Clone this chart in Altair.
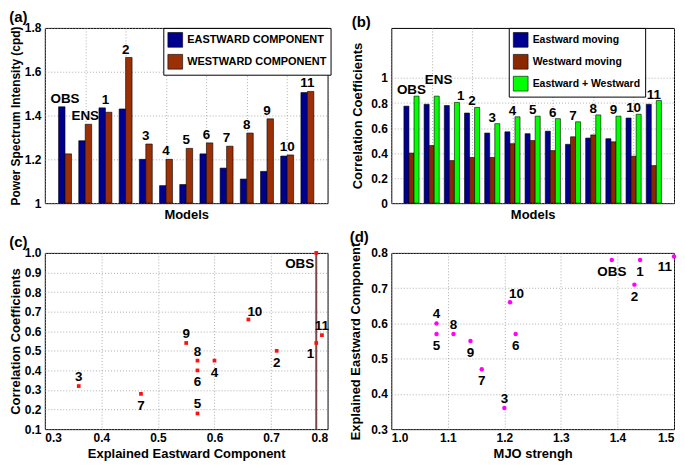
import altair as alt
import pandas as pd

FONT = "Liberation Sans"

# ---------------- data ----------------
models = ["OBS", "ENS", "1", "2", "3", "4", "5", "6", "7", "8", "9", "10", "11"]

# (a) power spectrum intensity (cpd)
psi_east = [1.44, 1.285, 1.435, 1.43, 1.20, 1.08, 1.085, 1.225, 1.16, 1.11, 1.145, 1.215, 1.505]
psi_west = [1.225, 1.36, 1.415, 1.665, 1.27, 1.20, 1.25, 1.275, 1.26, 1.32, 1.385, 1.22, 1.51]

# (b) correlation coefficients
cc_east = [0.775, 0.79, 0.78, 0.72, 0.56, 0.57, 0.555, 0.575, 0.47, 0.52, 0.515, 0.68, 0.79]
cc_west = [0.40, 0.46, 0.34, 0.365, 0.365, 0.475, 0.50, 0.42, 0.53, 0.545, 0.49, 0.375, 0.30]
cc_both = [0.855, 0.855, 0.805, 0.765, 0.635, 0.69, 0.695, 0.675, 0.65, 0.705, 0.695, 0.71, 0.82]

# (c), (d) scatter
pt_labels = ["OBS", "1", "2", "3", "4", "5", "6", "7", "8", "9", "10", "11"]
expl_east = [0.78, 0.78, 0.71, 0.36, 0.60, 0.57, 0.57, 0.47, 0.57, 0.55, 0.66, 0.79]
corr_coef = [1.00, 0.54, 0.50, 0.32, 0.45, 0.18, 0.40, 0.28, 0.45, 0.54, 0.66, 0.58]
mjo_strength = [1.39, 1.44, 1.43, 1.20, 1.08, 1.08, 1.22, 1.16, 1.11, 1.14, 1.21, 1.50]
obs_line = [0.78]

# ---------------- annotation styling ----------------
place_c = ["belowleft", "belowleft", "below", "above", "below", "above", "below", "below",
           "above", "above", "aboveright", "above"]
place_d = ["below", "below", "below", "above", "above", "below", "below", "below",
           "above", "below", "aboveright", "belowleft"]

PLACE = {
    "above": dict(align="center", baseline="alphabetic", dx=0, dy=-5),
    "below": dict(align="center", baseline="top", dx=0, dy=5),
    "aboveright": dict(align="left", baseline="alphabetic", dx=-1, dy=-4),
    "belowleft": dict(align="right", baseline="top", dx=-2, dy=4),
}

# per-label nudges (pixels) for the bar-group labels
nudge_a = {}
nudge_b = {"ENS": (7, -10), "1": (9, 0)}

GRID = dict(grid=True, gridColor="#9a9a9a", gridDash=[1, 2], gridWidth=0.8)


def bar_panel(names, series, colors, bw, ytitle, ytitle_size, ydom, yticks, legx, leg_fs,
              tag, lab_dy, nudge, lab_pad, title_pad):
    rows = []
    n = len(names)
    for si, (nm, vals) in enumerate(zip(names, series)):
        for mi, v in enumerate(vals):
            pos = mi + 1
            start = pos - n * bw / 2 + si * bw
            rows.append(dict(series=nm, value=v, x0=start, x1=start + bw, base=ydom[0]))
    df = pd.DataFrame(rows)
    lab = pd.DataFrame({
        "model": models,
        "pos": list(range(1, len(models) + 1)),
        "top": [max(t) for t in zip(*series)],
    })
    xscale = alt.Scale(domain=[0, 14], nice=False, zero=False)
    xaxis = alt.Axis(values=list(range(0, 15, 2)), labels=False, ticks=False,
                     title="Models", titlePadding=5, **GRID)
    yscale = alt.Scale(domain=ydom, nice=False, zero=False)
    yaxis = alt.Axis(values=yticks, format="~g", title=ytitle, ticks=False,
                     titleFontSize=ytitle_size, labelPadding=lab_pad,
                     titlePadding=title_pad, **GRID)
    bars = alt.Chart(df).mark_bar(stroke="black", strokeWidth=0.6).encode(
        x=alt.X("x0:Q", scale=xscale, axis=xaxis),
        x2="x1:Q",
        y=alt.Y("value:Q", scale=yscale, axis=yaxis),
        y2="base:Q",
        color=alt.Color("series:N", scale=alt.Scale(domain=names, range=colors),
                        legend=alt.Legend(orient="none", legendX=legx, legendY=0, title=None,
                                          fillColor="white", strokeColor="black", padding=4,
                                          symbolType="square", symbolSize=220,
                                          symbolStrokeColor="black", symbolStrokeWidth=0.6,
                                          symbolOpacity=1,
                                          labelFont=FONT, labelFontSize=leg_fs,
                                          labelFontWeight="bold", labelColor="black",
                                          labelLimit=400, rowPadding=4, labelOffset=4)),
    )
    layers = [bars]
    enc = dict(x=alt.X("pos:Q", scale=xscale, axis=xaxis),
               y=alt.Y("top:Q", scale=yscale, axis=yaxis), text="model:N")
    plain = lab[~lab["model"].isin(list(nudge))]
    layers.append(
        alt.Chart(plain).mark_text(font=FONT, fontSize=13.5, fontWeight="bold",
                                   baseline="alphabetic", dy=lab_dy, color="black").encode(**enc))
    for m, (ndx, ndy) in nudge.items():
        layers.append(
            alt.Chart(lab[lab["model"] == m]).mark_text(
                font=FONT, fontSize=13.5, fontWeight="bold", baseline="alphabetic",
                dx=ndx, dy=lab_dy + ndy, color="black").encode(**enc))
    return alt.layer(*layers).properties(width=284, height=176, title=tag)


panel_a = bar_panel(["EASTWARD COMPONENT", "WESTWARD COMPONENT"], [psi_east, psi_west],
                    ["#00008f", "#9b2f05"], 0.32, "Power Spectrum Intensity (cpd)", 12,
                    [1.0, 1.8], [1.0, 1.2, 1.4, 1.6, 1.8], 119, 11, "(a)", -4, nudge_a, 4, 2)

panel_b = bar_panel(["Eastward moving", "Westward moving", "Eastward + Westward"],
                    [cc_east, cc_west, cc_both],
                    ["#00008f", "#8a2800", "#00ff00"], 0.25, "Correlation Coefficients", 13,
                    [0.0, 1.4], [0.0, 0.2, 0.4, 0.6, 0.8, 1.0], 118, 10.5, "(b)", -2,
                    nudge_b, 4, 6)


def scatter_panel(xvals, yvals, places, xtitle, ytitle, xdom, xticks, ydom, yticks,
                  point, tag, lab_pad, title_pad, width, vline=None):
    df = pd.DataFrame({"x": xvals, "y": yvals, "label": pt_labels, "place": places})
    xscale = alt.Scale(domain=xdom, nice=False, zero=False)
    xaxis = alt.Axis(values=xticks, format=".1f", title=xtitle, ticks=False,
                     labelPadding=3, titlePadding=4, **GRID)
    base = alt.Chart(df).encode(
        x=alt.X("x:Q", scale=xscale, axis=xaxis),
        y=alt.Y("y:Q", scale=alt.Scale(domain=ydom, nice=False, zero=False),
                axis=alt.Axis(values=yticks, format=".1f", title=ytitle, ticks=False,
                              labelPadding=lab_pad, titlePadding=title_pad, **GRID)),
    )
    layers = []
    if vline is not None:
        layers.append(
            alt.Chart(pd.DataFrame({"x": vline})).mark_rule(
                color="#7a4848", strokeWidth=2).encode(x=alt.X("x:Q", scale=xscale, axis=xaxis)))
    layers.append(point(base))
    for key, st in PLACE.items():
        layers.append(
            base.transform_filter(alt.datum.place == key).mark_text(
                font=FONT, fontSize=13.5, fontWeight="bold", color="black", **st
            ).encode(text="label:N")
        )
    return alt.layer(*layers).properties(width=width, height=177, title=tag)


panel_c = scatter_panel(
    expl_east, corr_coef, place_c, "Explained Eastward Component", "Correlation Coefficients",
    [0.3, 0.8], [0.3, 0.4, 0.5, 0.6, 0.7, 0.8],
    [0.1, 1.0], [0.1, 0.2, 0.3, 0.4, 0.5, 0.6, 0.7, 0.8, 0.9, 1.0],
    lambda b: b.mark_square(size=14, color="#ff1010", opacity=1),
    "(c)", 4, 2, 284, vline=obs_line)

panel_d = scatter_panel(
    mjo_strength, expl_east, place_d, "MJO strengh", "Explained Eastward Component",
    [1.0, 1.5], [1.0, 1.1, 1.2, 1.3, 1.4, 1.5],
    [0.3, 0.8], [0.3, 0.4, 0.5, 0.6, 0.7, 0.8],
    lambda b: b.mark_circle(size=20, color="#ff00ff", opacity=1),
    "(d)", 4, 8, 284)

chart = alt.concat(
    panel_a, panel_b, panel_c, panel_d, columns=2,
    spacing={"row": 50, "column": 64}, bounds="flush",
).resolve_scale(color="independent").properties(padding=0).configure_view(
    stroke="black", strokeWidth=1
).configure_axis(
    labelFont=FONT, labelFontSize=12, labelFontWeight="bold", labelColor="black",
    titleFont=FONT, titleFontSize=13, titleFontWeight="bold", titleColor="black",
    domain=False, labelOverlap=False,
).configure_title(
    font=FONT, fontSize=15, fontWeight="bold", anchor="start", color="black", offset=-3
)

chart.save("out.html", embed_options={"renderer": "svg", "actions": False})
